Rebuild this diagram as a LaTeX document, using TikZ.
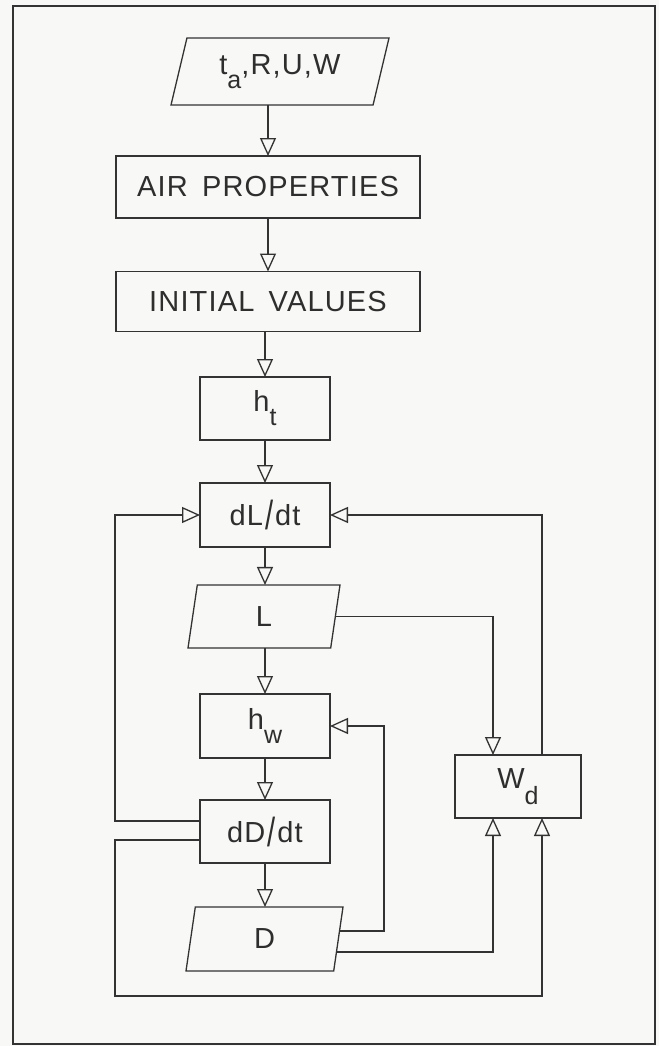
\documentclass[tikz,border=0pt]{standalone}
\usepackage{fontspec}
\setmainfont{Liberation Sans}[LetterSpace=4]
\usetikzlibrary{arrows.meta,shapes.geometric,calc}
\definecolor{ln}{HTML}{333333}
\definecolor{txt}{HTML}{2E2E2E}
\definecolor{bg}{HTML}{F8F8F6}
\newcommand{\sbs}[2][-14pt]{\raisebox{#1}{\fontsize{25}{25}\selectfont #2}}
\newcommand{\slsh}{\kern2pt\raisebox{-4pt}{\scalebox{1}[1.4]{/}}\kern2pt}
\begin{document}
\begin{tikzpicture}[x=1pt,y=-1pt,
  base/.style={draw=ln, line width=1.3pt, inner sep=0pt, outer sep=0pt, text=txt, font=\fontsize{29}{31}\selectfont},
  box/.style={base, rectangle, minimum width=130pt, minimum height=63pt},
  wide/.style={base, rectangle, minimum width=304pt, minimum height=62pt},
  para/.style={base, trapezium, trapezium left angle=65, trapezium right angle=115, trapezium stretches body},
  flow/.style={draw=ln, line width=1.3pt, -{Triangle[open, length=18pt, width=16pt, line width=1.3pt]}},
  plain/.style={draw=ln, line width=1.3pt}
]
\useasboundingbox (0,0) rectangle (659,1046);
\fill[bg] (0,0) rectangle (659,1046);
\draw[ln, line width=1.6pt] (13,6) rectangle (655,1044);

\node[para, minimum height=67pt, minimum width=218pt] (ta) at (280,71.5) {t\sbs{a},R,U,W};
\node[wide] (ap) at (268,187) {AIR\hspace{5pt} PROPERTIES};
\node[wide, minimum height=60pt] (iv) at (268,301.5) {INITIAL\hspace{5pt} VALUES};
\node[box] (ht) at (265,408.5) {h\sbs{t}};
\node[box, minimum height=64pt] (dl) at (265,515) {dL\slsh dt};
\node[para, minimum height=63pt, minimum width=152pt] (L) at (264,616.5) {L};
\node[box, minimum height=64pt] (hw) at (265,726) {h\sbs{w}};
\node[box] (dd) at (265,831.5) {dD\slsh dt};
\node[para, minimum height=64pt, minimum width=157pt] (D) at (264.5,939) {D};
\node[box, minimum width=126pt] (wd) at (518,786.5) {W\sbs[-16pt]{d}};

% points on the slanted right edges
\coordinate (Lr) at ($(L.bottom right corner)!0.5!(L.top right corner)$);
\coordinate (Du) at ($(D.bottom right corner)!0.625!(D.top right corner)$);
\coordinate (Dl) at ($(D.bottom right corner)!0.297!(D.top right corner)$);

% main column
\draw[flow] (ap.north |- ta.south) -- (ap.north);
\draw[flow] (ap.south) -- (iv.north);
\draw[flow] (ht.north |- iv.south) -- (ht.north);
\draw[flow] (ht.south) -- (dl.north);
\draw[flow] (dl.south) -- (dl.south |- L.north);
\draw[flow] (L.south -| hw.north) -- (hw.north);
\draw[flow] (hw.south) -- (dd.north);
\draw[flow] (dd.south) -- (dd.south |- D.north);

% feedback loops
\draw[flow] ([yshift=10.5pt]dd.west) -- ++(-85,0) |- (dl.west);
\draw[flow] ([yshift=-8.5pt]dd.west) -- ++(-85,0) -- ++(0,156) -| ([xshift=24pt]wd.south);
\draw[flow] (Du) -| ($(hw.east)+(54,0)$) -- (hw.east);
\draw[flow] (Dl) -| ([xshift=-25pt]wd.south);
\draw[flow] (Lr) -| ([xshift=-25pt]wd.north);
\draw[flow] ([xshift=24pt]wd.north) |- (dl.east);
\end{tikzpicture}
\end{document}
